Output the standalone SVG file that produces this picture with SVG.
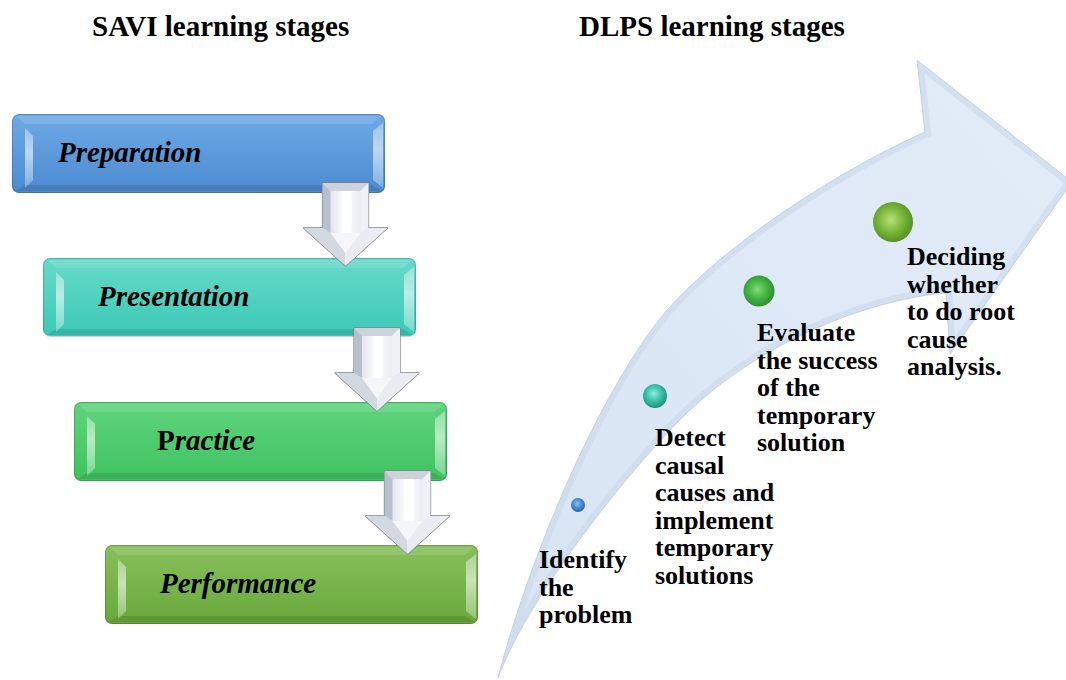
<svg xmlns="http://www.w3.org/2000/svg" width="1066" height="680" viewBox="0 0 1066 680">
  <style>
    .title { font-family: "Liberation Serif", "Times New Roman", serif; font-weight: bold; font-size: 29px; fill: #000; }
    .stage { font-family: "Liberation Serif", "Times New Roman", serif; font-weight: bold; font-style: italic; font-size: 29px; fill: #000; }
    .step { font-family: "Liberation Serif", "Times New Roman", serif; font-weight: bold; font-size: 26px; fill: #000; }
    .down-outline { fill: url(#downBody); stroke: #7d8391; stroke-width: 1.3; stroke-linejoin: round; }
  </style>
  <defs>
    <!-- box fills -->
    <linearGradient id="gBlue" x1="0" y1="0" x2="0" y2="1">
      <stop offset="0" stop-color="#6eaae6"/>
      <stop offset="1" stop-color="#4b8ad0"/>
    </linearGradient>
    <linearGradient id="gTeal" x1="0" y1="0" x2="0" y2="1">
      <stop offset="0" stop-color="#66d9c9"/>
      <stop offset="1" stop-color="#3cc9b6"/>
    </linearGradient>
    <linearGradient id="gGreen" x1="0" y1="0" x2="0" y2="1">
      <stop offset="0" stop-color="#5fd47d"/>
      <stop offset="1" stop-color="#40c360"/>
    </linearGradient>
    <linearGradient id="gLime" x1="0" y1="0" x2="0" y2="1">
      <stop offset="0" stop-color="#88c05c"/>
      <stop offset="1" stop-color="#68a83a"/>
    </linearGradient>
    <linearGradient id="bevelLight" x1="0" y1="0" x2="0" y2="1">
      <stop offset="0" stop-color="#ffffff" stop-opacity="0.35"/>
      <stop offset="0.4" stop-color="#ffffff" stop-opacity="0.6"/>
      <stop offset="1" stop-color="#ffffff" stop-opacity="0.3"/>
    </linearGradient>
    <!-- shared bevel overlay for the stage boxes (373 x 79) -->
    <g id="boxBevel">
      <rect x="0.5" y="0.5" width="372" height="78" rx="7" fill="none" stroke="#000" stroke-opacity="0.18"/>
      <path d="M4,2 H369 L360,10 H13 Z" fill="#ffffff" fill-opacity="0.12"/>
      <path d="M4,77 H369 L360,71 H13 Z" fill="#000000" fill-opacity="0.1"/>
      <path d="M13,14 L21,22 L21,66 L13,74 Z" fill="url(#bevelLight)"/>
      <path d="M371,9 L361,17 L361,66 L371,74 Z" fill="url(#bevelLight)"/>
    </g>
    <!-- down arrow between stages -->
    <linearGradient id="downBody" x1="0" y1="0" x2="1" y2="0">
      <stop offset="0" stop-color="#aab1c0"/>
      <stop offset="0.3" stop-color="#dfe3ea"/>
      <stop offset="0.5" stop-color="#ffffff"/>
      <stop offset="0.72" stop-color="#e3e7ee"/>
      <stop offset="1" stop-color="#c4cad6"/>
    </linearGradient>
    <g id="downArrow">
      <path class="down-outline" d="M-23,0 H23 V45 H42 L0,83 L-42,45 H-23 Z"/>
      <path d="M-23,0 H23 L15,8 H-15 Z" fill="#cdd2dc"/>
      <path d="M-23,0 L-15,8 V50 L-23,45 Z" fill="#b9c0cd"/>
      <path d="M23,0 L15,8 V50 L23,45 Z" fill="#eef1f6"/>
      <rect x="-3" y="8" width="9" height="46" fill="#ffffff"/>
      <path d="M-42,45 H-23 L-15,50 L0,70 V83 Z" fill="#d3d8e1"/>
      <path d="M42,45 H23 L15,50 L0,70 V83 Z" fill="#e9ecf2"/>
      <path d="M-15,50 H15 L0,70 Z" fill="#f4f6f9"/>
    </g>
    <!-- curved progress arrow -->
    <linearGradient id="bigArrowFill" x1="0" y1="1" x2="1" y2="0">
      <stop offset="0" stop-color="#d8e4f3"/>
      <stop offset="1" stop-color="#e3ecf9"/>
    </linearGradient>
    <path id="bigArrowShape" d="M498,678 C530,555 600,390 667,310 C730,240 840,170 925,132 L917,60 L1072,182 L950,354 L946,293 C880,298 770,335 690,410 C645,452 530,590 498,678 Z"/>
    <clipPath id="bigArrowClip">
      <use href="#bigArrowShape"/>
    </clipPath>
    <!-- sphere markers -->
    <radialGradient id="sBlue" cx="0.45" cy="0.4" r="0.6">
      <stop offset="0" stop-color="#8fc4f0"/>
      <stop offset="0.5" stop-color="#4a8fd2"/>
      <stop offset="1" stop-color="#2a65a8"/>
    </radialGradient>
    <radialGradient id="sTeal" cx="0.45" cy="0.4" r="0.6">
      <stop offset="0" stop-color="#8ff0df"/>
      <stop offset="0.5" stop-color="#3fc4ac"/>
      <stop offset="1" stop-color="#1f8f7c"/>
    </radialGradient>
    <radialGradient id="sGreen" cx="0.45" cy="0.45" r="0.6">
      <stop offset="0" stop-color="#7fdc7a"/>
      <stop offset="0.5" stop-color="#45b443"/>
      <stop offset="1" stop-color="#2a8a2e"/>
    </radialGradient>
    <radialGradient id="sLime" cx="0.45" cy="0.45" r="0.6">
      <stop offset="0" stop-color="#b8e27a"/>
      <stop offset="0.5" stop-color="#7ab83c"/>
      <stop offset="1" stop-color="#4f8a1e"/>
    </radialGradient>
  </defs>

  <rect x="0" y="0" width="1066" height="680" fill="#ffffff"/>

  <!-- headings -->
  <g id="headings">
    <text class="title" x="92" y="36">SAVI learning stages</text>
    <text class="title" x="579" y="36">DLPS learning stages</text>
  </g>

  <!-- curved arrow carrying the DLPS steps -->
  <g id="dlps-arrow">
    <use href="#bigArrowShape" fill="url(#bigArrowFill)"/>
    <g clip-path="url(#bigArrowClip)">
      <use href="#bigArrowShape" fill="none" stroke="#c9d7ea" stroke-width="12" stroke-opacity="0.55"/>
    </g>
    <use href="#bigArrowShape" fill="none" stroke="#c2d2e7" stroke-width="1"/>
  </g>

  <!-- DLPS steps -->
  <g id="dlps-identify">
    <circle cx="578" cy="505" r="7" fill="url(#sBlue)"/>
    <text class="step" x="539" y="568">Identify<tspan x="539" dy="27.5">the</tspan><tspan x="539" dy="27.5">problem</tspan></text>
  </g>
  <g id="dlps-detect">
    <circle cx="655" cy="396" r="12" fill="url(#sTeal)"/>
    <text class="step" x="655" y="446">Detect<tspan x="655" dy="27.6">causal</tspan><tspan x="655" dy="27.6">causes and</tspan><tspan x="655" dy="27.6">implement</tspan><tspan x="655" dy="27.6">temporary</tspan><tspan x="655" dy="27.6">solutions</tspan></text>
  </g>
  <g id="dlps-evaluate">
    <circle cx="759" cy="291" r="15.5" fill="url(#sGreen)"/>
    <text class="step" x="757" y="341">Evaluate<tspan x="757" dy="27.5">the success</tspan><tspan x="757" dy="27.5">of the</tspan><tspan x="757" dy="27.5">temporary</tspan><tspan x="757" dy="27.5">solution</tspan></text>
  </g>
  <g id="dlps-decide">
    <circle cx="893" cy="222" r="20" fill="url(#sLime)"/>
    <text class="step" x="907" y="265">Deciding<tspan x="907" dy="27.6">whether</tspan><tspan x="907" dy="27.6">to do root</tspan><tspan x="907" dy="27.6">cause</tspan><tspan x="907" dy="27.6">analysis.</tspan></text>
  </g>

  <!-- SAVI stages -->
  <g id="savi-preparation" transform="translate(12,114)">
    <rect width="373" height="79" rx="7" fill="url(#gBlue)"/>
    <use href="#boxBevel"/>
    <text class="stage" x="46" y="48">Preparation</text>
  </g>
  <g id="savi-presentation" transform="translate(43,258)">
    <rect width="373" height="78" rx="7" fill="url(#gTeal)"/>
    <use href="#boxBevel"/>
    <text class="stage" x="55" y="48">Presentation</text>
  </g>
  <g id="savi-practice" transform="translate(74,402)">
    <rect width="373" height="79" rx="7" fill="url(#gGreen)"/>
    <use href="#boxBevel"/>
    <text class="stage" x="83" y="48"><tspan font-style="normal">P</tspan>ractice</text>
  </g>
  <g id="savi-performance" transform="translate(105,545)">
    <rect width="373" height="79" rx="7" fill="url(#gLime)"/>
    <use href="#boxBevel"/>
    <text class="stage" x="55" y="48">Performance</text>
  </g>

  <!-- connectors between SAVI stages -->
  <g id="connectors">
    <use href="#downArrow" transform="translate(345.5,183)"/>
    <use href="#downArrow" transform="translate(377,328)"/>
    <use href="#downArrow" transform="translate(407.5,471)"/>
  </g>
</svg>
